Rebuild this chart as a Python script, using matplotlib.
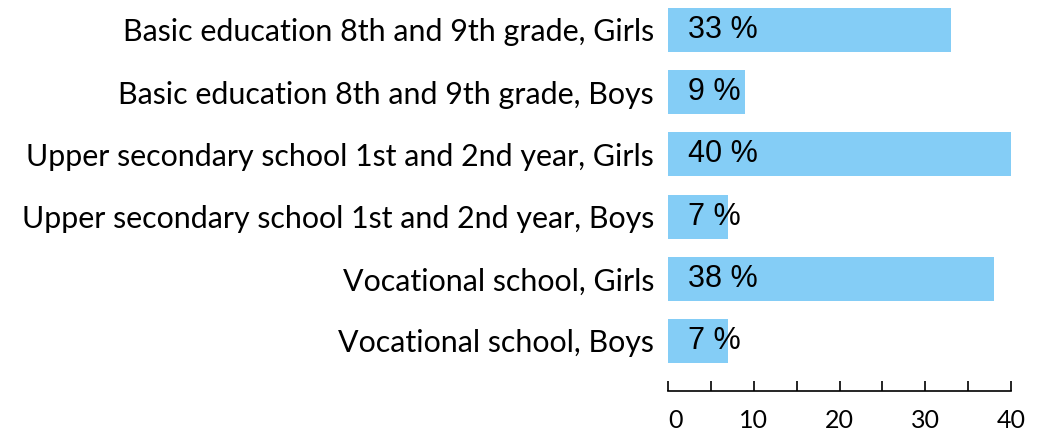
import matplotlib
matplotlib.use("Agg")
import matplotlib.pyplot as plt

categories = [
    "Basic education 8th and 9th grade, Girls",
    "Basic education 8th and 9th grade, Boys",
    "Upper secondary school 1st and 2nd year, Girls",
    "Upper secondary school 1st and 2nd year, Boys",
    "Vocational school, Girls",
    "Vocational school, Boys",
]
values = [33, 9, 40, 7, 38, 7]
value_labels = ["33 %", "9 %", "40 %", "7 %", "38 %", "7 %"]

W, H = 1046, 432
fig = plt.figure(figsize=(W / 100, H / 100), dpi=100)
ax = fig.add_axes([668 / W, (H - 391) / H, (1011 - 668) / W, 391 / H])

pos = list(range(len(categories)))
ax.barh(pos, values, height=0.707, color="#84CDF6")
ax.set_xlim(0, 40)
ax.set_ylim(5.804, -0.482)

for p, lab in zip(pos, value_labels):
    ax.annotate(lab, xy=(0, p), xytext=(14.5, 0), textcoords="offset points",
                ha="left", va="center", fontsize=22, family="Liberation Sans",
                color="black")

ax.set_yticks(pos)
ax.set_yticklabels(categories, fontsize=21.9, family="Lato")
ax.tick_params(axis="y", length=0, pad=10)

ax.set_xticks(range(0, 41, 5))
ax.set_xticklabels([str(v) if v % 10 == 0 else "" for v in range(0, 41, 5)],
                   fontsize=18, family="Lato")
ax.tick_params(axis="x", direction="in", length=7, width=1.2, pad=13, colors="black")
ax.get_xticklabels()[0].set_horizontalalignment("left")

for s in ["top", "right", "left"]:
    ax.spines[s].set_visible(False)
ax.spines["bottom"].set_linewidth(1.2)

fig.savefig("out.png", dpi=100)
